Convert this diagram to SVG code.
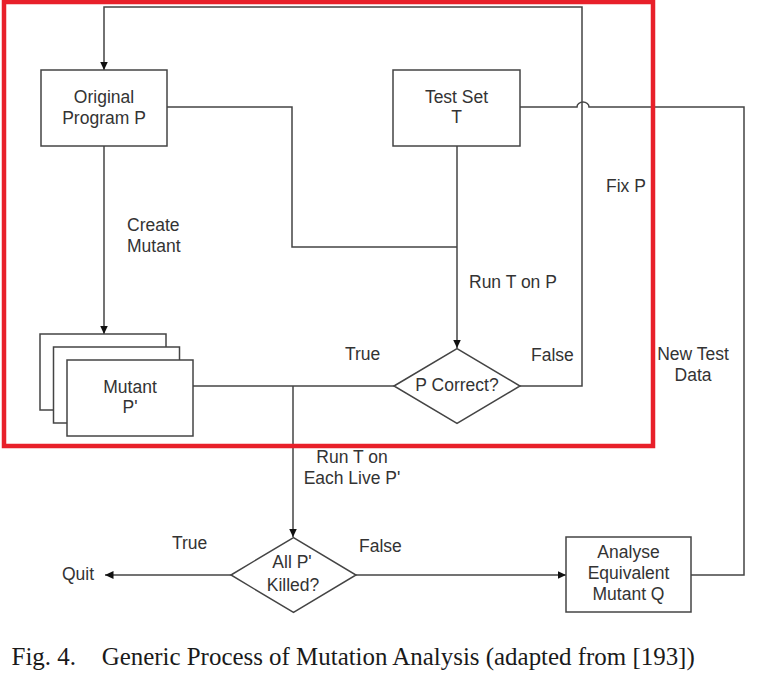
<svg xmlns="http://www.w3.org/2000/svg" width="758" height="674" viewBox="0 0 758 674">
<style>
.box{fill:#fff;stroke:#444;stroke-width:1.5}
.ln{fill:none;stroke:#444;stroke-width:1.5}
.t{font-family:"Liberation Sans",Arial,sans-serif;font-size:17.5px;fill:#333}
.c{text-anchor:middle}
.cap{font-family:"Liberation Serif","Times New Roman",serif;font-size:25px;fill:#1a1a1a}
</style>
<defs>
<marker id="arr" markerUnits="userSpaceOnUse" markerWidth="9" markerHeight="8" refX="8.5" refY="4" orient="auto">
<path d="M0,0 L8.5,4 L0,8 z" fill="#111"/>
</marker>
</defs>
<rect width="758" height="674" fill="#fff"/>

<g id="connectors">
<path class="ln" d="M104,146 V334" marker-end="url(#arr)"/>
<path class="ln" d="M167,107 H292 V247 H457"/>
<path class="ln" d="M457,146 V348" marker-end="url(#arr)"/>
<path class="ln" d="M520,386 H582 V7 H104 V70" marker-end="url(#arr)"/>
<path class="ln" d="M520,107 H577 A6,5 0 0 1 589,107 H744 V575 H691"/>
<path class="ln" d="M193,386 H394"/>
<path class="ln" d="M293,386 V537" marker-end="url(#arr)"/>
<path class="ln" d="M231,575 H105" marker-end="url(#arr)"/>
<path class="ln" d="M356,575 H566" marker-end="url(#arr)"/>
</g>

<g id="original">
<rect class="box" x="41" y="70" width="126" height="76"/>
<text class="t c" x="104" y="103">Original</text>
<text class="t c" x="104" y="124">Program P</text>
</g>

<g id="testset">
<rect class="box" x="393" y="70" width="127" height="76"/>
<text class="t c" x="456.5" y="103">Test Set</text>
<text class="t c" x="456.5" y="123">T</text>
</g>

<g id="mutant">
<rect class="box" x="40" y="334" width="126" height="76"/>
<rect class="box" x="53.5" y="347" width="126" height="76"/>
<rect class="box" x="67" y="360" width="126" height="76"/>
<text class="t c" x="130" y="393">Mutant</text>
<text class="t c" x="130" y="413">P'</text>
</g>

<g id="pcorrect">
<path class="box" d="M394,386 L457,348.5 L520,386 L457,423.5 z"/>
<text class="t c" x="457" y="391">P Correct?</text>
</g>

<g id="allkilled">
<path class="box" d="M231,575 L293.5,537.5 L356,575 L293.5,612.5 z"/>
<text class="t c" x="292" y="568">All P'</text>
<text class="t c" x="293" y="591">Killed?</text>
</g>

<g id="analyse">
<rect class="box" x="566" y="537" width="125" height="75"/>
<text class="t c" x="628.5" y="558">Analyse</text>
<text class="t c" x="628.5" y="579">Equivalent</text>
<text class="t c" x="628.5" y="600">Mutant Q</text>
</g>

<g id="labels">
<text class="t" x="127" y="231">Create</text>
<text class="t" x="127" y="252">Mutant</text>
<text class="t" x="469" y="288">Run T on P</text>
<text class="t" x="606" y="192">Fix P</text>
<text class="t" x="345" y="360">True</text>
<text class="t" x="531" y="361">False</text>
<text class="t c" x="693" y="360">New Test</text>
<text class="t c" x="693" y="381">Data</text>
<text class="t c" x="352" y="463">Run T on</text>
<text class="t c" x="352" y="484">Each Live P'</text>
<text class="t" x="172" y="549">True</text>
<text class="t" x="359" y="552">False</text>
<text class="t" x="62" y="580">Quit</text>
</g>

<rect id="highlight" x="4" y="2" width="649" height="444" fill="none" stroke="#e8202a" stroke-width="4.5"/>

<text class="cap" y="664.5"><tspan x="11.5">Fig. 4.</tspan><tspan x="101.7" textLength="593" lengthAdjust="spacingAndGlyphs">Generic Process of Mutation Analysis (adapted from [193])</tspan></text>
</svg>
